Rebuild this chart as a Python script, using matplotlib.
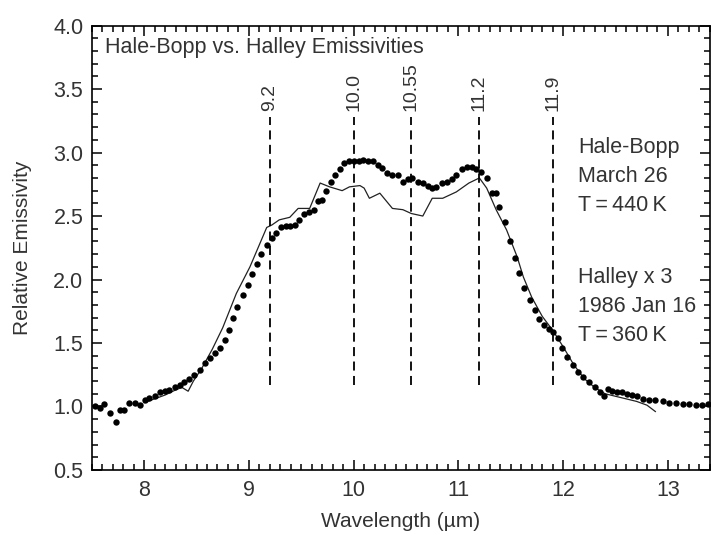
import matplotlib.pyplot as plt
from matplotlib.ticker import MultipleLocator

plt.rcParams['font.family'] = ['Liberation Sans', 'DejaVu Sans']

# Hale-Bopp emissivity (dots)
hb_wave = [7.53, 7.58, 7.62, 7.67, 7.73, 7.77, 7.81, 7.86, 7.91, 7.96,
           8.01, 8.05, 8.10, 8.15, 8.20, 8.24, 8.29, 8.34, 8.38, 8.43,
           8.48, 8.53, 8.58, 8.63, 8.68, 8.72, 8.77, 8.81, 8.85, 8.89,
           8.94, 8.99, 9.03, 9.08, 9.12, 9.17, 9.22, 9.26, 9.31, 9.35,
           9.39, 9.44, 9.48, 9.53, 9.57, 9.62, 9.66, 9.70, 9.74, 9.78,
           9.82, 9.87, 9.91, 9.96, 10.00, 10.05, 10.09, 10.14, 10.18, 10.23,
           10.27, 10.32, 10.37, 10.42, 10.47, 10.52, 10.56, 10.61, 10.66, 10.71,
           10.75, 10.79, 10.84, 10.89, 10.94, 10.98, 11.03, 11.08, 11.13, 11.17,
           11.22, 11.27, 11.32, 11.36, 11.39, 11.44, 11.49, 11.54, 11.58, 11.63,
           11.68, 11.73, 11.77, 11.82, 11.86, 11.90, 11.95, 11.99, 12.04, 12.09,
           12.14, 12.19, 12.25, 12.30, 12.35, 12.39, 12.43, 12.47, 12.51, 12.56,
           12.61, 12.66, 12.70, 12.76, 12.82, 12.88, 12.95, 13.01, 13.08, 13.14,
           13.20, 13.27, 13.33, 13.38]
hb_emis = [1.00, 0.99, 1.02, 0.95, 0.88, 0.97, 0.97, 1.03, 1.03, 1.01,
           1.05, 1.07, 1.08, 1.11, 1.12, 1.13, 1.15, 1.17, 1.19, 1.22,
           1.25, 1.29, 1.34, 1.38, 1.42, 1.46, 1.52, 1.60, 1.70, 1.78,
           1.88, 1.96, 2.04, 2.12, 2.20, 2.27, 2.33, 2.37, 2.41, 2.42,
           2.42, 2.43, 2.47, 2.52, 2.53, 2.55, 2.62, 2.63, 2.70, 2.77,
           2.82, 2.87, 2.92, 2.93, 2.93, 2.93, 2.94, 2.93, 2.93, 2.90,
           2.88, 2.84, 2.82, 2.82, 2.77, 2.79, 2.80, 2.77, 2.76, 2.74,
           2.72, 2.73, 2.76, 2.77, 2.79, 2.82, 2.87, 2.89, 2.89, 2.87,
           2.85, 2.80, 2.68, 2.68, 2.57, 2.45, 2.30, 2.17, 2.05, 1.93,
           1.84, 1.76, 1.69, 1.64, 1.61, 1.59, 1.54, 1.46, 1.39, 1.33,
           1.27, 1.23, 1.19, 1.15, 1.11, 1.08, 1.14, 1.12, 1.11, 1.11,
           1.10, 1.09, 1.08, 1.06, 1.05, 1.05, 1.04, 1.03, 1.03, 1.02,
           1.02, 1.01, 1.01, 1.02]

# Halley x 3 (thin line)
ha_wave = [8.00, 8.10, 8.20, 8.30, 8.36, 8.42, 8.47, 8.55, 8.65, 8.75,
           8.88, 9.01, 9.17, 9.22, 9.29, 9.39, 9.47, 9.58, 9.68, 9.77,
           9.89, 9.96, 10.06, 10.10, 10.15, 10.25, 10.30, 10.37, 10.47, 10.55,
           10.66, 10.75, 10.85, 10.98, 11.10, 11.20, 11.27, 11.36, 11.46, 11.56,
           11.62, 11.70, 11.80, 11.90, 12.00, 12.10, 12.20, 12.30, 12.40, 12.50,
           12.60, 12.70, 12.80, 12.88]
ha_emis = [1.03, 1.06, 1.09, 1.13, 1.15, 1.12, 1.20, 1.30, 1.45, 1.62,
           1.89, 2.10, 2.41, 2.43, 2.47, 2.49, 2.56, 2.56, 2.76, 2.73,
           2.70, 2.73, 2.74, 2.72, 2.64, 2.68, 2.63, 2.56, 2.55, 2.52,
           2.50, 2.64, 2.64, 2.69, 2.76, 2.80, 2.72, 2.55, 2.39, 2.18,
           2.02, 1.86, 1.71, 1.60, 1.47, 1.33, 1.22, 1.15, 1.10, 1.08,
           1.06, 1.04, 1.01, 0.96]

# feature wavelengths marked with dashed lines
features = [9.2, 10.0, 10.55, 11.2, 11.9]
feature_labels = ['9.2', '10.0', '10.55', '11.2', '11.9']

txt = '#333333'
ts = '\u2009'  # thin space, as in "T = 440 K"

fig = plt.figure(figsize=(7.17, 5.34), dpi=100)
ax = fig.add_axes([0.128, 0.12, 0.862, 0.832])

ax.plot(ha_wave, ha_emis, color='#222222', lw=0.9)
ax.plot(hb_wave, hb_emis, 'o', color='black', ms=4.6, mew=0)

for x, lab in zip(features, feature_labels):
    ax.plot([x, x], [1.17, 3.28], color='black', lw=1.3, ls=(0, (5, 3)))
    ax.text(x, 3.33, lab, rotation=90, ha='center', va='bottom',
            fontsize=14, color=txt)

ax.text(7.63, 3.83, 'Hale-Bopp vs. Halley Emissivities', fontsize=15.5,
        color=txt, va='center')
ax.text(12.14, 3.12, 'Hale-Bopp\nMarch 26\nT' + ts + '=' + ts + '440' + ts + 'K',
        fontsize=15.5, color=txt, va='top', linespacing=1.5)
ax.text(12.14, 2.10, 'Halley x 3\n1986 Jan 16\nT' + ts + '=' + ts + '360' + ts + 'K',
        fontsize=15.5, color=txt, va='top', linespacing=1.5)

ax.set_xlim(7.5, 13.4)
ax.set_ylim(0.5, 4.0)
ax.xaxis.set_major_locator(MultipleLocator(1))
ax.xaxis.set_minor_locator(MultipleLocator(0.1))
ax.yaxis.set_major_locator(MultipleLocator(0.5))
ax.yaxis.set_minor_locator(MultipleLocator(0.1))
ax.yaxis.set_major_formatter(plt.FormatStrFormatter('%.1f'))
ax.tick_params(which='both', direction='in', top=True, right=True,
               labelsize=15.5, labelcolor=txt, width=1.1)
ax.tick_params(which='major', length=7)
ax.tick_params(which='minor', length=4)
ax.tick_params(axis='x', pad=7)
ax.tick_params(axis='y', pad=6)
for s in ax.spines.values():
    s.set_linewidth(1.2)

ax.set_xlabel('Wavelength (\u00b5m)', fontsize=15, color=txt, labelpad=8)
ax.set_ylabel('Relative Emissivity', fontsize=15, color=txt, labelpad=15)

fig.savefig('out.png', dpi=100)
